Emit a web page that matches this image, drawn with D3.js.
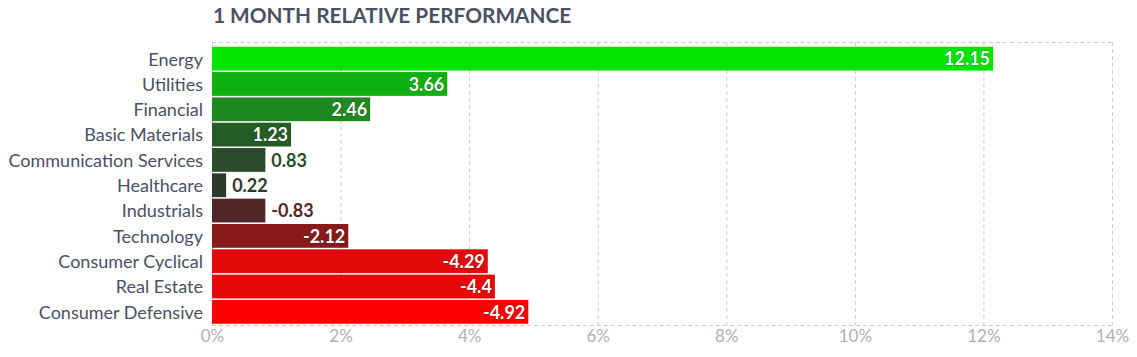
<!DOCTYPE html>
<html><head><meta charset="utf-8">
<script src="https://cdn.jsdelivr.net/npm/d3@7"></script>
<style>
body{margin:0;background:#fff;}
svg{display:block;font-family:Lato,"Open Sans",sans-serif;}
</style></head>
<body>
<svg id="chart" width="1137" height="357"></svg>
<script>
const categories = ["Energy","Utilities","Financial","Basic Materials","Communication Services","Healthcare","Industrials","Technology","Consumer Cyclical","Real Estate","Consumer Defensive"];
const values = [12.15,3.66,2.46,1.23,0.83,0.22,-0.83,-2.12,-4.29,-4.4,-4.92];
const colors = ["#00e400","#0fb010","#1e891e","#255b25","#2a4c2a","#2e392e","#532628","#891a1a","#e00a0a","#e60707","#fc0000"];
const tickValues = [0,2,4,6,8,10,12,14];
const title = "1 MONTH RELATIVE PERFORMANCE";

const svg = d3.select("#chart");
const margin = {left:212, right:25, top:42, bottom:32};
const W = 1137, H = 357;
const x = d3.scaleLinear().domain([0,14]).range([margin.left, W - margin.right]);
const y = d3.scaleBand().domain(categories).range([46, H - margin.bottom - 0.5]).paddingInner(0.06).paddingOuter(0.03);

svg.append("text").attr("x",213).attr("y",23).attr("font-size",20.8).attr("font-weight","bold")
  .attr("fill","#4b5163").text(title);

// grid
const grid = svg.append("g");
grid.selectAll("line.v").data(tickValues).join("line")
  .attr("x1",d=>x(d)+0.5).attr("x2",d=>x(d)+0.5)
  .attr("y1",margin.top).attr("y2",H-margin.bottom)
  .attr("stroke","#cccccc").attr("stroke-dasharray","4,3");
[margin.top, H-margin.bottom].forEach(yy=>{
  grid.append("line").attr("x1",x(0)).attr("x2",x(14)).attr("y1",yy+0.5).attr("y2",yy+0.5)
    .attr("stroke","#cccccc").attr("stroke-dasharray","4,3");
});

// x axis labels
const xAxis = d3.axisBottom(x).tickValues(tickValues).tickFormat(d=>d+"%").tickSize(0).tickPadding(5);
const gx = svg.append("g").attr("transform",`translate(0,${H-margin.bottom})`).call(xAxis);
gx.select(".domain").remove();
gx.selectAll("text").attr("font-size",17).attr("fill","#b0b0b8").attr("font-family","Lato,sans-serif");

// y axis labels
const yAxis = d3.axisLeft(y).tickSize(0).tickPadding(9);
const gy = svg.append("g").attr("transform",`translate(${margin.left},0)`).call(yAxis);
gy.select(".domain").remove();
gy.selectAll("text").attr("font-size",18).attr("fill","#4a5065").attr("font-family","Lato,sans-serif").attr("dy","0.38em");

const data = categories.map((c,i)=>({c, v:values[i], col:colors[i]}));
svg.append("g").selectAll("rect").data(data).join("rect")
  .attr("x",x(0)).attr("y",d=>y(d.c)).attr("width",d=>x(Math.abs(d.v))-x(0))
  .attr("height",y.bandwidth()).attr("fill",d=>d.col);

const lbl = svg.append("g").selectAll("text").data(data).join("text")
  .attr("font-size",18).attr("font-weight","bold")
  .attr("y",d=>y(d.c)+y.bandwidth()/2).attr("dy","0.38em")
  .text(d=>String(d.v));
lbl.each(function(d){
  const t = d3.select(this);
  const w = this.getComputedTextLength();
  const bw = x(Math.abs(d.v))-x(0);
  if (w + 20 < bw) {
    t.attr("x", x(Math.abs(d.v))-3).attr("text-anchor","end").attr("fill","#fff")
     .attr("stroke","rgba(0,0,0,0.3)").attr("stroke-width",1.2).attr("paint-order","stroke");
  } else {
    t.attr("x", x(Math.abs(d.v))+6).attr("text-anchor","start").attr("fill",d.col);
  }
});
</script>
</body></html>
